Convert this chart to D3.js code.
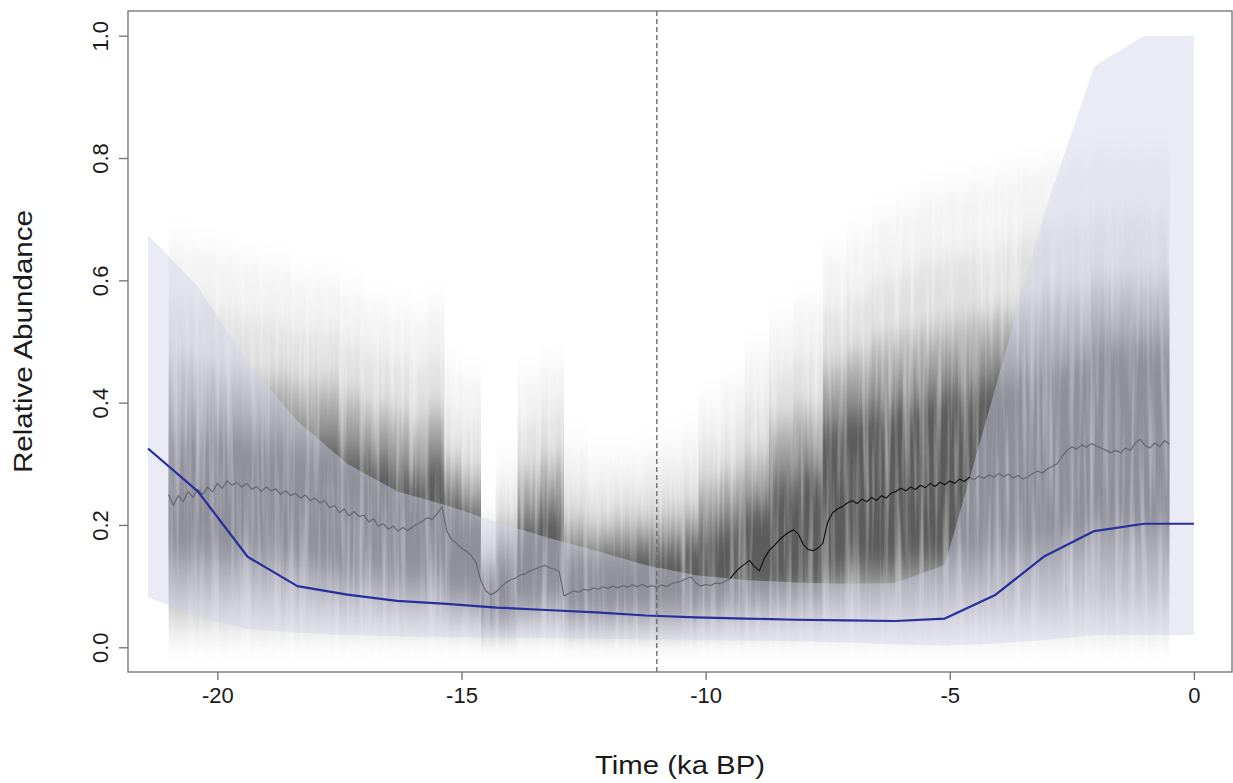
<!DOCTYPE html>
<html><head><meta charset="utf-8">
<script src="https://cdn.jsdelivr.net/npm/d3@7"></script>
<style>html,body{margin:0;padding:0;background:#fff;} svg{display:block;font-family:"Liberation Sans",Arial,sans-serif;}</style>
</head><body><svg id="chart" width="1233" height="783"></svg>
<script>
// ---------- data ----------
const xTicks = [-20, -15, -10, -5, 0];
const xTickLabels = ["-20", "-15", "-10", "-5", "0"];
const yTicks = [0, 0.2, 0.4, 0.6, 0.8, 1.0];
const yTickLabels = ["0.0", "0.2", "0.4", "0.6", "0.8", "1.0"];
const markerTime = -11;

// model envelope (lavender) and model mean (blue)
const bandTime = [-21.42,-20.40,-19.38,-18.36,-17.34,-16.32,-15.30,-14.28,-13.26,-12.24,-11.22,-10.20,-9.18,-8.16,-7.14,-6.12,-5.10,-4.08,-3.06,-2.04,-1.02,0];
const bandUpper = [0.674,0.590,0.465,0.370,0.300,0.255,0.232,0.205,0.180,0.158,0.134,0.118,0.110,0.106,0.104,0.105,0.135,0.420,0.710,0.950,1.000,1.000];
const bandLower = [0.082,0.050,0.030,0.024,0.020,0.018,0.017,0.016,0.015,0.014,0.013,0.012,0.011,0.010,0.008,0.005,0.003,0.006,0.012,0.020,0.020,0.020];
const modelMean = [0.325,0.255,0.148,0.100,0.086,0.076,0.071,0.065,0.061,0.057,0.052,0.049,0.047,0.045,0.044,0.043,0.047,0.085,0.149,0.190,0.202,0.202];

// posterior sample cloud (grey) summarised by quantile envelopes
const cloudTime = [-21.0,-20.5,-20.0,-19.5,-19.0,-18.5,-18.0,-17.5,-17.0,-16.5,-16.0,-15.7,-15.35,-15.0,-14.6,-14.3,-13.85,-13.4,-12.9,-12.4,-11.9,-11.4,-10.9,-10.5,-10.15,-9.7,-9.2,-8.7,-8.2,-7.6,-7.1,-6.6,-6.1,-5.6,-5.1,-4.6,-4.1,-3.6,-3.1,-2.6,-2.1,-1.6,-1.1,-0.5];
const cloudMax = [0.66,0.65,0.64,0.63,0.62,0.60,0.60,0.58,0.56,0.55,0.54,0.56,0.46,0.44,0.22,0.30,0.44,0.46,0.33,0.31,0.31,0.32,0.33,0.35,0.40,0.43,0.48,0.53,0.56,0.64,0.67,0.70,0.72,0.74,0.75,0.76,0.77,0.78,0.79,0.80,0.81,0.81,0.81,0.81];
const cloudHi  = [0.47,0.46,0.45,0.44,0.44,0.43,0.43,0.41,0.39,0.38,0.37,0.39,0.31,0.29,0.15,0.20,0.29,0.31,0.21,0.20,0.21,0.21,0.22,0.23,0.27,0.29,0.32,0.37,0.39,0.46,0.48,0.50,0.51,0.52,0.53,0.54,0.55,0.56,0.58,0.58,0.60,0.60,0.60,0.60];
const cloudQ3  = [0.35,0.35,0.35,0.34,0.34,0.33,0.33,0.31,0.30,0.28,0.28,0.30,0.24,0.22,0.12,0.14,0.20,0.22,0.15,0.15,0.15,0.16,0.16,0.17,0.19,0.20,0.23,0.27,0.29,0.36,0.38,0.39,0.40,0.41,0.42,0.43,0.44,0.45,0.46,0.47,0.50,0.50,0.50,0.50];
const cloudQ1  = [0.15,0.15,0.15,0.15,0.14,0.14,0.13,0.12,0.12,0.11,0.11,0.12,0.09,0.08,0.04,0.045,0.07,0.08,0.055,0.055,0.06,0.06,0.065,0.065,0.07,0.075,0.085,0.095,0.095,0.12,0.13,0.13,0.14,0.14,0.15,0.15,0.16,0.16,0.17,0.18,0.19,0.19,0.19,0.19];
const cloudLo  = [0.07,0.07,0.07,0.07,0.065,0.065,0.06,0.055,0.055,0.05,0.05,0.05,0.04,0.04,0.03,0.03,0.04,0.04,0.03,0.03,0.03,0.03,0.03,0.03,0.035,0.035,0.04,0.045,0.045,0.055,0.055,0.055,0.055,0.055,0.055,0.06,0.06,0.065,0.065,0.07,0.07,0.07,0.07,0.07];
const cloudMin = [0.018,0.018,0.018,0.018,0.018,0.018,0.018,0.018,0.018,0.018,0.018,0.018,0.018,0.018,0.015,0.015,0.018,0.018,0.015,0.015,0.015,0.015,0.015,0.015,0.015,0.015,0.015,0.015,0.015,0.015,0.015,0.015,0.015,0.015,0.015,0.015,0.015,0.018,0.018,0.018,0.018,0.018,0.018,0.018];

// posterior median (black line)
const medTime = [-21.0,-20.9,-20.8,-20.7,-20.6,-20.5,-20.4,-20.3,-20.2,-20.1,-20.0,-19.9,-19.8,-19.7,-19.6,-19.5,-19.4,-19.3,-19.2,-19.1,-19.0,-18.9,-18.8,-18.7,-18.6,-18.5,-18.4,-18.3,-18.2,-18.1,-18.0,-17.9,-17.8,-17.7,-17.6,-17.5,-17.4,-17.3,-17.2,-17.1,-17.0,-16.9,-16.8,-16.7,-16.6,-16.5,-16.4,-16.3,-16.2,-16.1,-16.0,-15.9,-15.8,-15.7,-15.6,-15.5,-15.4,-15.3,-15.2,-15.1,-15.0,-14.9,-14.8,-14.7,-14.6,-14.5,-14.4,-14.3,-14.2,-14.1,-14.0,-13.9,-13.8,-13.7,-13.6,-13.5,-13.4,-13.3,-13.2,-13.1,-13.0,-12.9,-12.8,-12.7,-12.6,-12.5,-12.4,-12.3,-12.2,-12.1,-12.0,-11.9,-11.8,-11.7,-11.6,-11.5,-11.4,-11.3,-11.2,-11.1,-11.0,-10.9,-10.8,-10.7,-10.6,-10.5,-10.4,-10.3,-10.2,-10.1,-10.0,-9.9,-9.8,-9.7,-9.6,-9.5,-9.4,-9.3,-9.2,-9.1,-9.0,-8.9,-8.8,-8.7,-8.6,-8.5,-8.4,-8.3,-8.2,-8.1,-8.0,-7.9,-7.8,-7.7,-7.6,-7.5,-7.4,-7.3,-7.2,-7.1,-7.0,-6.9,-6.8,-6.7,-6.6,-6.5,-6.4,-6.3,-6.2,-6.1,-6.0,-5.9,-5.8,-5.7,-5.6,-5.5,-5.4,-5.3,-5.2,-5.1,-5.0,-4.9,-4.8,-4.7,-4.6,-4.5,-4.4,-4.3,-4.2,-4.1,-4.0,-3.9,-3.8,-3.7,-3.6,-3.5,-3.4,-3.3,-3.2,-3.1,-3.0,-2.9,-2.8,-2.7,-2.6,-2.5,-2.4,-2.3,-2.2,-2.1,-2.0,-1.9,-1.8,-1.7,-1.6,-1.5,-1.4,-1.3,-1.2,-1.1,-1.0,-0.9,-0.8,-0.7,-0.6,-0.5];
const medValue = [0.250,0.232,0.248,0.238,0.255,0.245,0.258,0.250,0.262,0.254,0.268,0.260,0.272,0.265,0.270,0.262,0.268,0.258,0.263,0.255,0.262,0.256,0.259,0.250,0.256,0.248,0.252,0.244,0.249,0.240,0.244,0.236,0.240,0.228,0.232,0.220,0.226,0.215,0.222,0.214,0.216,0.205,0.210,0.198,0.202,0.193,0.198,0.190,0.196,0.191,0.197,0.202,0.206,0.212,0.209,0.218,0.230,0.190,0.176,0.170,0.162,0.157,0.150,0.138,0.108,0.092,0.086,0.090,0.098,0.105,0.110,0.113,0.118,0.120,0.125,0.128,0.131,0.134,0.130,0.128,0.124,0.084,0.088,0.092,0.090,0.095,0.093,0.097,0.095,0.099,0.096,0.100,0.097,0.101,0.098,0.102,0.099,0.103,0.098,0.101,0.098,0.102,0.099,0.104,0.106,0.108,0.112,0.115,0.105,0.100,0.103,0.101,0.105,0.104,0.108,0.112,0.122,0.130,0.136,0.142,0.132,0.125,0.145,0.158,0.166,0.175,0.182,0.188,0.192,0.185,0.168,0.160,0.158,0.162,0.170,0.205,0.220,0.226,0.230,0.236,0.240,0.235,0.242,0.238,0.245,0.240,0.248,0.244,0.252,0.255,0.260,0.256,0.262,0.258,0.265,0.261,0.268,0.263,0.270,0.266,0.272,0.268,0.275,0.271,0.278,0.274,0.280,0.276,0.282,0.278,0.284,0.279,0.283,0.277,0.281,0.275,0.279,0.284,0.288,0.285,0.292,0.296,0.300,0.312,0.322,0.328,0.324,0.331,0.327,0.333,0.329,0.326,0.322,0.318,0.322,0.318,0.326,0.322,0.334,0.340,0.330,0.326,0.334,0.328,0.338,0.332];

// ---------- layout ----------
const plot = {left: 128, right: 1232, top: 11, bottom: 672};
const x = d3.scaleLinear().domain([-21.83, 0.78]).range([plot.left, plot.right]);
const y = d3.scaleLinear().domain([-0.0404, 1.0404]).range([plot.bottom, plot.top]);

const svg = d3.select("#chart");
const defs = svg.append("defs");
defs.append("clipPath").attr("id", "clip").append("rect")
  .attr("x", plot.left).attr("y", plot.top).attr("width", plot.right - plot.left).attr("height", plot.bottom - plot.top);

const f = defs.append("filter").attr("id", "streaks")
  .attr("filterUnits", "userSpaceOnUse")
  .attr("x", plot.left).attr("y", plot.top).attr("width", plot.right - plot.left).attr("height", plot.bottom - plot.top)
  .attr("color-interpolation-filters", "sRGB");
f.append("feGaussianBlur").attr("in", "SourceGraphic").attr("stdDeviation", "0.7 14").attr("result", "blur");
f.append("feTurbulence").attr("type", "fractalNoise").attr("baseFrequency", "0.2 0.006").attr("numOctaves", 2).attr("seed", 11).attr("result", "noise");
f.append("feColorMatrix").attr("in", "noise").attr("type", "matrix")
  .attr("values", "0 0 0 0 0  0 0 0 0 0  0 0 0 0 0  1.0 0 0 0 0.42").attr("result", "mask");
f.append("feComposite").attr("in", "blur").attr("in2", "mask").attr("operator", "in");

const root = svg.append("g").attr("clip-path", "url(#clip)");

// grey cloud
const cloud = cloudTime.map((t, i) => ({t, max: cloudMax[i], hi: cloudHi[i], q3: cloudQ3[i], q1: cloudQ1[i], lo: cloudLo[i], min: cloudMin[i]}));
const cloudG = root.append("g").attr("filter", "url(#streaks)");
const layers = [
  {lo: d => d.min, hi: d => d.max, op: 0.05},
  {lo: d => d.min, hi: d => (d.hi + d.max) / 2, op: 0.08},
  {lo: d => d.lo, hi: d => d.hi, op: 0.20},
  {lo: d => (d.lo + d.q1) / 2, hi: d => (d.q3 + d.hi) / 2, op: 0.20},
  {lo: d => d.q1, hi: d => d.q3, op: 0.36}
];
layers.forEach(L => {
  const a = d3.area().curve(d3.curveStepAfter).x(d => x(d.t)).y0(d => y(L.lo(d))).y1(d => y(L.hi(d)));
  cloudG.append("path").datum(cloud).attr("d", a).attr("fill", "#000").attr("fill-opacity", L.op);
});

// median line
const med = medTime.map((t, i) => ({t, v: medValue[i]}));
root.append("path").datum(med)
  .attr("d", d3.line().x(d => x(d.t)).y(d => y(d.v)))
  .attr("fill", "none").attr("stroke", "#111").attr("stroke-width", 1.15).attr("stroke-linejoin", "round");

// model envelope
const band = bandTime.map((t, i) => ({t, u: bandUpper[i], l: bandLower[i], m: modelMean[i]}));
root.append("path").datum(band)
  .attr("d", d3.area().x(d => x(d.t)).y0(d => y(d.l)).y1(d => y(d.u)))
  .attr("fill", "rgb(209,209,232)").attr("fill-opacity", 0.44);

// model mean
root.append("path").datum(band)
  .attr("d", d3.line().x(d => x(d.t)).y(d => y(d.m)))
  .attr("fill", "none").attr("stroke", "rgb(38,46,156)").attr("stroke-width", 2.2).attr("stroke-linejoin", "round");

// marker
root.append("line").attr("x1", x(markerTime)).attr("x2", x(markerTime)).attr("y1", plot.top).attr("y2", plot.bottom)
  .attr("stroke", "#666").attr("stroke-width", 1.3).attr("stroke-dasharray", "5,3");

// ---------- axes ----------
const axisCol = "#707070";
svg.append("rect").attr("x", plot.left).attr("y", plot.top).attr("width", plot.right - plot.left).attr("height", plot.bottom - plot.top)
  .attr("fill", "none").attr("stroke", axisCol).attr("stroke-width", 1.3);

const xAxis = svg.append("g").attr("transform", `translate(0,${plot.bottom})`)
  .call(d3.axisBottom(x).tickValues(xTicks).tickFormat((d, i) => xTickLabels[i]).tickSize(8).tickPadding(7).tickSizeOuter(0));
xAxis.select(".domain").remove();
xAxis.selectAll(".tick line").attr("stroke", axisCol).attr("stroke-width", 1.3);
xAxis.selectAll(".tick text").attr("font-size", 22).attr("fill", "#1a1a1a").attr("font-family", "Liberation Sans, Arial, sans-serif");

const yAxis = svg.append("g").attr("transform", `translate(${plot.left},0)`)
  .call(d3.axisLeft(y).tickValues(yTicks).tickFormat((d, i) => yTickLabels[i]).tickSize(9).tickSizeOuter(0));
yAxis.select(".domain").remove();
yAxis.selectAll(".tick line").attr("stroke", axisCol).attr("stroke-width", 1.3);
yAxis.selectAll(".tick text")
  .attr("font-size", 22).attr("fill", "#1a1a1a").attr("font-family", "Liberation Sans, Arial, sans-serif")
  .attr("x", null).attr("dy", null)
  .attr("text-anchor", "middle")
  .attr("transform", "translate(-20,0) rotate(-90)");

svg.append("text").attr("x", (plot.left + plot.right) / 2).attr("y", 774)
  .attr("text-anchor", "middle").attr("font-size", 26).attr("fill", "#1a1a1a")
  .attr("textLength", 170).attr("lengthAdjust", "spacingAndGlyphs")
  .text("Time (ka BP)");
svg.append("text").attr("transform", `translate(32,${(plot.top + plot.bottom) / 2}) rotate(-90)`)
  .attr("text-anchor", "middle").attr("font-size", 26).attr("fill", "#1a1a1a")
  .attr("textLength", 263).attr("lengthAdjust", "spacingAndGlyphs")
  .text("Relative Abundance");
</script></body></html>
